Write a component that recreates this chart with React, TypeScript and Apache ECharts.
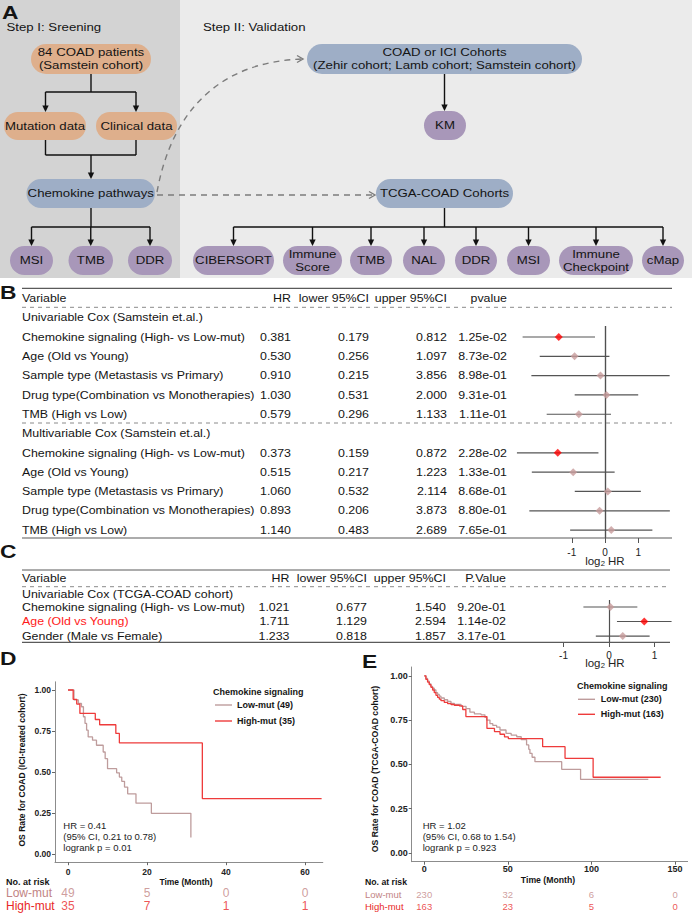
import React, { useEffect, useRef } from "react";
import * as echarts from "echarts";

const FONT = "'Liberation Sans', Arial, Helvetica, sans-serif";

// ---------------- Panel B: Cox regression (Samstein cohort) ----------------
const bVariables = [
  "Chemokine signaling (High- vs Low-mut)",
  "Age (Old vs Young)",
  "Sample type (Metastasis vs Primary)",
  "Drug type(Combination vs Monotherapies)",
  "TMB (High vs Low)",
];
const bUniHR = [0.381, 0.53, 0.91, 1.03, 0.579];
const bUniLower = [0.179, 0.256, 0.215, 0.531, 0.296];
const bUniUpper = [0.812, 1.097, 3.856, 2.0, 1.133];
const bUniP = [0.0125, 0.0873, 0.898, 0.931, 0.111];
const bMultiHR = [0.373, 0.515, 1.06, 0.893, 1.14];
const bMultiLower = [0.159, 0.217, 0.532, 0.206, 0.483];
const bMultiUpper = [0.872, 1.223, 2.114, 3.873, 2.689];
const bMultiP = [0.0228, 0.133, 0.868, 0.88, 0.765];

// ---------------- Panel C: Cox regression (TCGA-COAD) ----------------
const cVariables = ["Chemokine signaling (High- vs Low-mut)", "Age (Old vs Young)", "Gender (Male vs Female)"];
const cHR = [1.021, 1.711, 1.233];
const cLower = [0.677, 1.129, 0.818];
const cUpper = [1.54, 2.594, 1.857];
const cP = [0.92, 0.0114, 0.317];

const forestTicks = [-1, 0, 1];

// ---------------- Panel D: KM (ICI-treated cohort) ----------------
const dTimeTicks = [0, 20, 40, 60];
const dLowTime = [0, 1.5, 2.6, 3.4, 3.9, 4.3, 4.7, 5.1, 6.2, 7.2, 8.9, 9.4, 10.0, 12.3, 13.0, 13.6, 14.3, 15.1, 17.2, 21.1, 31.1];
const dLowSurv = [1.0, 0.94, 0.918, 0.898, 0.837, 0.796, 0.755, 0.714, 0.694, 0.663, 0.622, 0.581, 0.52, 0.495, 0.469, 0.443, 0.408, 0.367, 0.31, 0.248, 0.1];
const dHighTime = [0, 1.3, 2.2, 3.0, 6.9, 8.0, 12.1, 13.0, 34.0, 64.2];
const dHighSurv = [1.0, 0.943, 0.914, 0.857, 0.82, 0.788, 0.735, 0.677, 0.338, 0.338];
const dRiskLow = [49, 5, 0, 0];
const dRiskHigh = [35, 7, 1, 1];

// ---------------- Panel E: KM (TCGA-COAD cohort) ----------------
const eTimeTicks = [0, 50, 100, 150];
const eLowTime = [0, 1, 2, 3, 4, 5, 6, 7, 8, 9, 10, 12, 14, 16, 18, 22, 25, 27.3, 30, 34, 36.3, 37.3, 39.3, 41, 43.3, 45.3, 48.9, 52, 55.3, 58, 61.2, 62.5, 63.2, 64.5, 66.2, 82.2, 93.5, 134];
const eLowSurv = [1, 0.985, 0.97, 0.955, 0.94, 0.93, 0.92, 0.905, 0.895, 0.885, 0.875, 0.865, 0.855, 0.845, 0.838, 0.828, 0.815, 0.795, 0.785, 0.78, 0.765, 0.75, 0.73, 0.72, 0.71, 0.694, 0.675, 0.665, 0.656, 0.64, 0.61, 0.585, 0.562, 0.54, 0.515, 0.472, 0.415, 0.415];
const eHighTime = [0, 1, 2, 3, 4, 5, 6, 7, 8, 9, 10, 12, 14, 16, 18, 21, 23, 24.9, 37.5, 42, 45.3, 48, 50.3, 70.8, 84.2, 101, 141.4];
const eHighSurv = [1, 0.98, 0.965, 0.95, 0.935, 0.92, 0.905, 0.89, 0.878, 0.868, 0.86, 0.85, 0.843, 0.838, 0.834, 0.83, 0.81, 0.77, 0.703, 0.685, 0.67, 0.655, 0.645, 0.6, 0.534, 0.427, 0.427];
const eRiskLow = [230, 32, 6, 0];
const eRiskHigh = [163, 23, 5, 0];

const survTicks = [0, 0.25, 0.5, 0.75, 1];
const riskRows = ["Low-mut", "High-mut"];

// ---------------- colours ----------------
const ORANGE = "#DEAF8C";
const BLUE = "#9EAEC6";
const PURPLE = "#A897B9";
const LOW_COL = "#BE9C9C";
const HIGH_COL = "#EE3B3B";
const LOW_TXT = "#C28484";
const HIGH_TXT = "#E82828";
const PT_NS = "#C79B9B";
const PT_SIG = "#FF0000";

// ---------------- layout ----------------
const B_TOP = 326, B_H = 212, B_YMIN = -0.57, B_YMAX = 10.41;
const C_TOP = 600, C_H = 42, C_YMIN = -0.48, C_YMAX = 2.41;
const rowYB = (i: number) => B_TOP + ((i - B_YMIN) * B_H) / (B_YMAX - B_YMIN);
const rowYC = (i: number) => C_TOP + ((i - C_YMIN) * C_H) / (C_YMAX - C_YMIN);

const fmt3 = (v: number) => v.toFixed(3);
const fmtP = (v: number) => v.toExponential(2).replace(/e([+-])(\d)$/, "e$10$2");
const log2 = (v: number) => Math.log(v) / Math.LN2;

function txt(x: number, y: number, s: string, o: any = {}) {
  const size = o.size ?? 12;
  return {
    type: "text",
    x,
    y,
    scaleX: o.sx ?? 1,
    rotation: o.rot ?? 0,
    z: 20,
    silent: true,
    style: {
      text: s,
      fill: o.color ?? "#141414",
      fontSize: size,
      fontFamily: FONT,
      fontWeight: o.weight ?? "normal",
      align: o.align ?? "left",
      verticalAlign: "middle",
      lineHeight: o.lh ?? Math.round(size * 1.15),
    },
  };
}
function ln(x1: number, y1: number, x2: number, y2: number, o: any = {}) {
  return {
    type: "line",
    z: 15,
    silent: true,
    shape: { x1, y1, x2, y2 },
    style: { stroke: o.color ?? "#111", lineWidth: o.w ?? 1.4, lineDash: o.dash ?? null },
  };
}
function arrowDown(x: number, y: number) {
  return {
    type: "polygon",
    z: 15,
    silent: true,
    shape: { points: [[x - 3.2, y - 6.5], [x + 3.2, y - 6.5], [x, y]] },
    style: { fill: "#111" },
  };
}

function buildGraphics() {
  const g: any[] = [];
  // ---------- Panel A ----------
  g.push({ type: "rect", z: 1, silent: true, shape: { x: 0, y: 0, width: 180, height: 278 }, style: { fill: "#D3D3D3" } });
  g.push({ type: "rect", z: 1, silent: true, shape: { x: 180, y: 0, width: 512, height: 278 }, style: { fill: "#EBEBEB" } });
  const AF = { size: 11.5, sx: 1.15 };
  g.push(txt(2, 12, "A", { size: 19, weight: "bold", sx: 1.2 }));
  g.push(txt(6.5, 27, "Step I: Sreening", AF));
  g.push(txt(203, 27, "Step II: Validation", AF));

  const boxes: [number, number, number, number, string, string][] = [
    [31, 151, 44, 74, ORANGE, "84 COAD patients\n(Samstein cohort)"],
    [307, 582, 44, 74, BLUE, "COAD or ICI Cohorts\n(Zehir cohort; Lamb cohort; Samstein cohort)"],
    [4, 86, 112, 140, ORANGE, "Mutation data"],
    [96, 177, 112, 140, ORANGE, "Clinical data"],
    [424, 466, 111, 140, PURPLE, "KM"],
    [26.5, 155, 179, 208, BLUE, "Chemokine pathways"],
    [376, 513, 179, 208, BLUE, "TCGA-COAD Cohorts"],
    [10, 53, 246, 275, PURPLE, "MSI"],
    [68.5, 113, 246, 275, PURPLE, "TMB"],
    [128, 172, 246, 275, PURPLE, "DDR"],
    [193, 274, 246, 275, PURPLE, "CIBERSORT"],
    [283, 342, 246, 275, PURPLE, "Immune\nScore"],
    [350, 392, 246, 275, PURPLE, "TMB"],
    [403, 445, 246, 275, PURPLE, "NAL"],
    [455, 497, 246, 275, PURPLE, "DDR"],
    [507, 550, 246, 275, PURPLE, "MSI"],
    [559, 633, 246, 275, PURPLE, "Immune\nCheckpoint"],
    [642, 684, 246, 275, PURPLE, "cMap"],
  ];
  // connectors
  g.push(ln(91, 74, 91, 92), ln(45.5, 92, 136, 92), ln(45.5, 92, 45.5, 106), ln(136, 92, 136, 106));
  g.push(arrowDown(45.5, 112), arrowDown(136, 112));
  g.push(ln(45.5, 140, 45.5, 155), ln(136, 140, 136, 155), ln(45.5, 155, 136, 155), ln(91, 155, 91, 173));
  g.push(arrowDown(91, 179));
  g.push(ln(91, 208, 91, 227), ln(31.5, 227, 150, 227));
  [31.5, 90.75, 150].forEach((x) => g.push(ln(x, 227, x, 240), arrowDown(x, 246)));
  g.push(ln(444.5, 74, 444.5, 105), arrowDown(444.5, 111));
  g.push(ln(444.5, 208, 444.5, 227), ln(233.5, 227, 663, 227));
  [233.5, 312.5, 371, 424, 476, 528.5, 596, 663].forEach((x) => g.push(ln(x, 227, x, 240), arrowDown(x, 246)));
  // dashed links
  const DC = "#7C7C7C";
  g.push(ln(157, 195, 374, 195, { color: DC, dash: [6, 5] }));
  g.push({
    type: "polyline", z: 15, silent: true,
    shape: { points: [[369, 191.5], [375, 195], [369, 198.5]] },
    style: { stroke: DC, lineWidth: 1.4, fill: "none" },
  });
  g.push({
    type: "bezierCurve", z: 15, silent: true,
    shape: { x1: 157, y1: 192, cpx1: 172, cpy1: 110, cpx2: 220, cpy2: 62, x2: 302, y2: 59 },
    style: { stroke: DC, lineWidth: 1.4, lineDash: [6, 5], fill: "none" },
  });
  g.push({
    type: "polyline", z: 15, silent: true,
    shape: { points: [[297, 55.5], [303, 59], [297, 62.5]] },
    style: { stroke: DC, lineWidth: 1.4, fill: "none" },
  });
  boxes.forEach(([x1, x2, y1, y2, fill, label]) => {
    g.push({
      type: "rect", z: 16, silent: true,
      shape: { x: x1, y: y1, width: x2 - x1, height: y2 - y1, r: (y2 - y1) / 2 },
      style: { fill },
    });
    g.push(txt((x1 + x2) / 2, (y1 + y2) / 2, label, { ...AF, align: "center", lh: 13 }));
  });

  // ---------- Tables (B, C) ----------
  const TF = { size: 10.5, sx: 1.18 };
  const SOLID = "#5A5A5A";
  const DASH = "#8A8A8A";
  const colHR = 291, colLo = 369, colUp = 447, colP = 507;

  // B
  g.push(txt(0, 292.5, "B", { size: 19, weight: "bold", sx: 1.2 }));
  g.push(ln(22, 288.3, 672, 288.3, { color: SOLID, w: 1.2 }));
  g.push(txt(22, 298.3, "Variable", TF));
  g.push(txt(colHR, 298.3, "HR", { ...TF, align: "right" }));
  g.push(txt(colLo, 298.3, "lower 95%CI", { ...TF, align: "right" }));
  g.push(txt(colUp, 298.3, "upper 95%CI", { ...TF, align: "right" }));
  g.push(txt(colP, 298.3, "pvalue", { ...TF, align: "right" }));
  g.push(ln(22, 307.3, 672, 307.3, { color: DASH, w: 1, dash: [4, 4] }));
  g.push(txt(22, 317.7, "Univariable Cox (Samstein et.al.)", TF));
  const bRows = (hr: number[], lo: number[], up: number[], p: number[], off: number) => {
    bVariables.forEach((v, i) => {
      const y = rowYB(i + off);
      g.push(txt(22, y, v, TF));
      g.push(txt(colHR, y, fmt3(hr[i]), { ...TF, align: "right" }));
      g.push(txt(colLo, y, fmt3(lo[i]), { ...TF, align: "right" }));
      g.push(txt(colUp, y, fmt3(up[i]), { ...TF, align: "right" }));
      g.push(txt(colP, y, fmtP(p[i]), { ...TF, align: "right" }));
    });
  };
  bRows(bUniHR, bUniLower, bUniUpper, bUniP, 0);
  g.push(ln(22, 423, 672, 423, { color: DASH, w: 1, dash: [4, 4] }));
  g.push(txt(22, rowYB(5), "Multivariable Cox (Samstein et.al.)", TF));
  bRows(bMultiHR, bMultiLower, bMultiUpper, bMultiP, 6);
  g.push(ln(22, 538, 672, 538, { color: SOLID, w: 1.2 }));

  const log2HR = (cx: number, y: number) => {
    g.push(txt(cx - 4.5, y, "log", { size: 10, sx: 1.15, align: "right", color: "#222" }));
    g.push(txt(cx - 4.3, y + 3, "2", { size: 7, sx: 1.1, color: "#222" }));
    g.push(txt(cx + 3, y, "HR", { size: 10, sx: 1.15, color: "#222" }));
  };
  log2HR(605, 561);

  // C
  g.push(txt(0, 551.5, "C", { size: 19, weight: "bold", sx: 1.2 }));
  g.push(ln(22, 570, 670, 570, { color: SOLID, w: 1.2 }));
  g.push(txt(22, 578.3, "Variable", TF));
  g.push(txt(colHR - 1.5, 578.3, "HR", { ...TF, align: "right" }));
  g.push(txt(colLo - 2, 578.3, "lower 95%CI", { ...TF, align: "right" }));
  g.push(txt(colUp - 1, 578.3, "upper 95%CI", { ...TF, align: "right" }));
  g.push(txt(colP - 1, 578.3, "P.Value", { ...TF, align: "right" }));
  g.push(ln(22, 586.7, 670, 586.7, { color: DASH, w: 1, dash: [4, 4] }));
  g.push(txt(22, 594.3, "Univariable Cox (TCGA-COAD cohort)", TF));
  cVariables.forEach((v, i) => {
    const y = rowYC(i);
    g.push(txt(22, y, v, { ...TF, color: i === 1 ? "#FF1A1A" : "#141414" }));
    g.push(txt(colHR - 1.5, y, fmt3(cHR[i]), { ...TF, align: "right" }));
    g.push(txt(colLo - 2, y, fmt3(cLower[i]), { ...TF, align: "right" }));
    g.push(txt(colUp - 1, y, fmt3(cUpper[i]), { ...TF, align: "right" }));
    g.push(txt(colP - 1, y, fmtP(cP[i]), { ...TF, align: "right" }));
  });
  g.push(ln(22, 642.3, 670, 642.3, { color: SOLID, w: 1.2 }));
  log2HR(605, 663);

  // ---------- KM panels text ----------
  g.push(txt(0, 658.5, "D", { size: 19, weight: "bold", sx: 1.2 }));
  g.push(txt(362, 661.5, "E", { size: 19, weight: "bold", sx: 1.2 }));
  // D
  g.push(txt(21.7, 770, "OS Rate for COAD (ICI-treated cohort)", { size: 8.5, weight: "bold", align: "center", rot: Math.PI / 2 }));
  g.push(txt(186, 882, "Time (Month)", { size: 8.5, weight: "bold", align: "center" }));
  g.push(txt(213, 692, "Chemokine signaling", { size: 9, weight: "bold" }));
  g.push(ln(215, 705, 232, 705, { color: LOW_COL, w: 1.4 }), txt(237, 705, "Low-mut (49)", { size: 9, weight: "bold" }));
  g.push(ln(215, 721, 232, 721, { color: HIGH_COL, w: 1.4 }), txt(237, 721, "High-mut (35)", { size: 9, weight: "bold" }));
  g.push(txt(63.3, 825, "HR = 0.41", { size: 9.5, color: "#222" }));
  g.push(txt(63.3, 836, "(95% CI, 0.21 to 0.78)", { size: 9.5, color: "#222" }));
  g.push(txt(63.3, 847.3, "logrank p = 0.01", { size: 9.5, color: "#222" }));
  g.push(txt(6, 882, "No. at risk", { size: 9, weight: "bold" }));
  // E
  g.push(txt(375, 769, "OS Rate for COAD (TCGA-COAD cohort)", { size: 8.7, weight: "bold", align: "center", rot: Math.PI / 2 }));
  g.push(txt(548, 879.5, "Time (Month)", { size: 8.7, weight: "bold", align: "center" }));
  g.push(txt(577, 686, "Chemokine signaling", { size: 9, weight: "bold" }));
  g.push(ln(578, 699.3, 595, 699.3, { color: LOW_COL, w: 1.4 }), txt(600.7, 699.3, "Low-mut (230)", { size: 9, weight: "bold" }));
  g.push(ln(578, 714.3, 595, 714.3, { color: HIGH_COL, w: 1.4 }), txt(600.7, 714.3, "High-mut (163)", { size: 9, weight: "bold" }));
  g.push(txt(422.7, 825, "HR = 1.02", { size: 9.5, color: "#222" }));
  g.push(txt(422.7, 836.3, "(95% CI, 0.68 to 1.54)", { size: 9.5, color: "#222" }));
  g.push(txt(422.7, 847.7, "logrank p = 0.923", { size: 9.5, color: "#222" }));
  g.push(txt(365, 881.7, "No. at risk", { size: 8.7, weight: "bold" }));
  return g;
}

function forestSeries(hr: number[], lo: number[], up: number[], p: number[], idx: number[], axis: number) {
  const ci = hr.map((_, i) => [log2(lo[i]), log2(up[i]), idx[i]]);
  const pts = hr.map((h, i) => ({
    value: [log2(h), idx[i]],
    itemStyle: { color: p[i] < 0.05 ? PT_SIG : PT_NS },
  }));
  return [
    {
      type: "custom",
      xAxisIndex: axis,
      yAxisIndex: axis,
      z: 3,
      silent: true,
      encode: { x: [0, 1], y: 2 },
      data: ci,
      renderItem: (_params: any, api: any) => {
        const a = api.coord([api.value(0), api.value(2)]);
        const b = api.coord([api.value(1), api.value(2)]);
        return {
          type: "line",
          shape: { x1: a[0], y1: a[1], x2: b[0], y2: b[1] },
          style: { stroke: "#555", lineWidth: 1.2 },
        };
      },
    },
    {
      type: "scatter",
      xAxisIndex: axis,
      yAxisIndex: axis,
      z: 5,
      silent: true,
      symbol: "diamond",
      symbolSize: 8,
      data: pts,
      markLine: {
        silent: true,
        symbol: ["none", "none"],
        label: { show: false },
        lineStyle: { color: "#505050", width: 1.2, type: "solid" },
        data: [{ xAxis: 0 }],
      },
    },
  ];
}

function kmLine(name: string, t: number[], s: number[], color: string, axis: number) {
  return {
    type: "line",
    name,
    xAxisIndex: axis,
    yAxisIndex: axis,
    step: "end",
    symbol: "none",
    showSymbol: false,
    silent: true,
    z: 4,
    data: t.map((v, i) => [v, s[i]]),
    lineStyle: { color, width: 1.3 },
    itemStyle: { color },
  };
}

function riskSeries(ticks: number[], counts: number[], row: number, color: string, axis: number, size: number) {
  return {
    type: "scatter",
    xAxisIndex: axis,
    yAxisIndex: axis,
    silent: true,
    symbolSize: 1,
    itemStyle: { color: "rgba(0,0,0,0)" },
    data: ticks.map((t, i) => [t, row, counts[i]]),
    encode: { x: 0, y: 1 },
    label: {
      show: true,
      position: "inside",
      formatter: (p: any) => String(p.value[2]),
      color,
      fontSize: size,
      fontFamily: FONT,
    },
  };
}

function kmAxes(grid: number, min: number, max: number, ticks: number[], fs: number, xMargin: number) {
  const lineStyle = { color: "#8C8C8C", width: 1 };
  const label = { fontWeight: "bold", fontSize: fs, color: "#222", fontFamily: FONT };
  return {
    x: {
      type: "value", gridIndex: grid, min, max,
      axisLine: { show: true, onZero: false, lineStyle },
      axisTick: { show: true, length: 3, customValues: ticks, lineStyle: { color: "#666" } },
      axisLabel: { ...label, customValues: ticks, margin: xMargin },
      splitLine: { show: false },
    },
    y: {
      type: "value", gridIndex: grid, min: -0.05, max: 1.05,
      axisLine: { show: true, onZero: false, lineStyle },
      axisTick: { show: true, length: 3, customValues: survTicks, lineStyle: { color: "#666" } },
      axisLabel: { ...label, customValues: survTicks, margin: 4, formatter: (v: number) => v.toFixed(2) },
      splitLine: { show: false },
    },
  };
}

function buildOption() {
  const bIdx = [0, 1, 2, 3, 4];
  const bIdxM = [6, 7, 8, 9, 10];
  const cIdx = [0, 1, 2];
  const fx = (grid: number, min: number, max: number, margin: number) => ({
    type: "value", gridIndex: grid, min, max,
    axisLine: { show: false, onZero: false },
    axisTick: { show: true, length: 5, customValues: forestTicks, lineStyle: { color: "#555" } },
    axisLabel: { customValues: forestTicks, margin, fontSize: 10, color: "#222", fontFamily: FONT },
    splitLine: { show: false },
  });
  const fy = (grid: number, min: number, max: number) => ({
    type: "value", gridIndex: grid, min, max, inverse: true, show: false,
    axisLine: { onZero: false }, splitLine: { show: false },
  });
  const kd = kmAxes(2, -3.3, 64.5, dTimeTicks, 8.5, 5);
  const ke = kmAxes(3, -7.5, 157.5, eTimeTicks, 9, 3);
  const riskY = (grid: number, margin: number, size: number) => ({
    type: "category", gridIndex: grid, data: riskRows, inverse: true,
    axisLine: { show: false }, axisTick: { show: false }, splitLine: { show: false },
    axisLabel: {
      show: true, interval: 0, hideOverlap: false, align: "left", margin, fontSize: size, fontFamily: FONT,
      color: (v: string) => (v === "Low-mut" ? LOW_TXT : HIGH_TXT),
    },
  });
  const riskX = (grid: number, min: number, max: number) => ({
    type: "value", gridIndex: grid, min, max, show: false,
    axisLine: { onZero: false }, splitLine: { show: false },
  });
  const gridBase = { containLabel: false, outerBoundsMode: "none" };
  return {
    animation: false,
    backgroundColor: "#ffffff",
    textStyle: { fontFamily: FONT },
    grid: [
      { ...gridBase, left: 505.4, top: B_TOP, width: 166, height: B_H },
      { ...gridBase, left: 518, top: C_TOP, width: 159.25, height: C_H },
      { ...gridBase, left: 55, top: 681.8, width: 267.8, height: 180.4 },
      { ...gridBase, left: 411.7, top: 667, width: 275.9, height: 194.7 },
      { ...gridBase, left: 55, top: 886.5, width: 267.8, height: 26 },
      { ...gridBase, left: 411.7, top: 888.45, width: 275.9, height: 23.4 },
    ],
    xAxis: [fx(0, -3, 2, 9), fx(1, -2, 1.5, 8), kd.x, ke.x, riskX(4, -3.3, 64.5), riskX(5, -7.5, 157.5)],
    yAxis: [fy(0, B_YMIN, B_YMAX), fy(1, C_YMIN, C_YMAX), kd.y, ke.y, riskY(4, 49, 12), riskY(5, 46.7, 9.5)],
    series: [
      ...forestSeries(bUniHR, bUniLower, bUniUpper, bUniP, bIdx, 0),
      ...forestSeries(bMultiHR, bMultiLower, bMultiUpper, bMultiP, bIdxM, 0),
      ...forestSeries(cHR, cLower, cUpper, cP, cIdx, 1),
      kmLine("Low-mut (49)", dLowTime, dLowSurv, LOW_COL, 2),
      kmLine("High-mut (35)", dHighTime, dHighSurv, HIGH_COL, 2),
      kmLine("Low-mut (230)", eLowTime, eLowSurv, LOW_COL, 3),
      kmLine("High-mut (163)", eHighTime, eHighSurv, HIGH_COL, 3),
      riskSeries(dTimeTicks, dRiskLow, 0, LOW_TXT, 4, 12),
      riskSeries(dTimeTicks, dRiskHigh, 1, HIGH_TXT, 4, 12),
      riskSeries(eTimeTicks, eRiskLow, 0, LOW_TXT, 5, 9.5),
      riskSeries(eTimeTicks, eRiskHigh, 1, HIGH_TXT, 5, 9.5),
    ],
    graphic: buildGraphics(),
  };
}

export default function App() {
  const ref = useRef<HTMLDivElement>(null);
  useEffect(() => {
    if (!ref.current) return;
    const chart = echarts.init(ref.current, null, { renderer: "svg", width: 692, height: 913 });
    chart.setOption(buildOption() as any);
    return () => chart.dispose();
  }, []);
  return (
    <div
      ref={ref}
      style={{ position: "absolute", left: 0, top: 0, width: 692, height: 913, background: "#fff" }}
    />
  );
}
